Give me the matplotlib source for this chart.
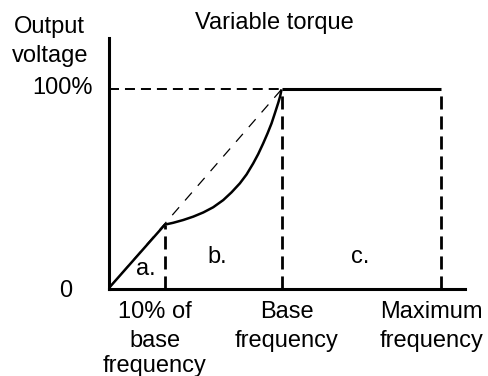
import matplotlib
matplotlib.use('Agg')
import matplotlib.pyplot as plt

plt.rcParams['font.family'] = ['Liberation Sans', 'DejaVu Sans']
plt.rcParams['lines.scale_dashes'] = False

# frequency positions (base frequency = 1) and voltage levels (100% = 1)
f_low = 0.325      # 10% of base frequency
f_base = 1.0
f_max = 1.92
v_low = 0.32
v_full = 1.0

# region a: straight V/f ramp from zero to the low-frequency point
ramp_x = [0.0, f_low]
ramp_y = [0.0, v_low]

# region b: variable-torque curve from the low point up to base frequency
curve_x = [0.322, 0.374, 0.432, 0.490, 0.548, 0.605, 0.663, 0.711, 0.759, 0.798,
           0.836, 0.865, 0.894, 0.919, 0.942, 0.961, 0.981, 0.992, 1.0]
curve_y = [0.320, 0.330, 0.344, 0.361, 0.382, 0.408, 0.444, 0.483, 0.528, 0.573,
           0.628, 0.675, 0.729, 0.779, 0.829, 0.879, 0.933, 0.966, 1.0]

# region c: constant voltage above base frequency
flat_x = [f_base, f_max]
flat_y = [v_full, v_full]

fig = plt.figure(figsize=(4.88, 3.76), dpi=100)
ax = fig.add_axes([108.5 / 488, (376 - 288.5) / 376, (465 - 108.5) / 488, (288.5 - 38) / 376])
ax.set_xlim(0, 2.06)
ax.set_ylim(0, 1.258)
for s in ['top', 'right']:
    ax.spines[s].set_visible(False)
for s in ['left', 'bottom']:
    ax.spines[s].set_linewidth(2.2)
ax.set_xticks([])
ax.set_yticks([])

# guide lines
ax.plot([0, f_base], [0, v_full], color='black', lw=0.9, ls=(0, (7.5, 6.5)))
ax.plot([0, f_base], [v_full, v_full], color='black', lw=1.4, ls=(0, (7.2, 4.3)))
for fx, top in [(f_low, v_low), (f_base, v_full), (f_max, v_full)]:
    ax.plot([fx, fx], [0, top], color='black', lw=2.0, ls=(0, (9.4, 5.0)))

# voltage curve
ax.plot(ramp_x, ramp_y, color='black', lw=1.8, solid_capstyle='butt')
ax.plot(curve_x, curve_y, color='black', lw=1.8, solid_capstyle='butt',
        solid_joinstyle='round')
ax.plot(flat_x, flat_y, color='black', lw=2.2, solid_capstyle='butt')

fs = 17
kw = dict(fontsize=fs, va='baseline', clip_on=False)
ax.text(0.958, 1.303, 'Variable torque', ha='center', **kw)
ax.text(-0.341, 1.283, 'Output', ha='center', **kw)
ax.text(-0.335, 1.137, 'voltage', ha='center', **kw)
ax.text(-0.091, 0.976, '100%', ha='right', **kw)
ax.text(-0.211, -0.043, '0', ha='right', **kw)

label_rows = [-0.150, -0.292, -0.419]
for cx, lines in [(0.268, ['10% of', 'base', 'frequency']),
                  (1.031, ['Base', 'frequency']),
                  (1.868, ['Maximum', 'frequency'])]:
    for yy, t in zip(label_rows, lines):
        ax.text(cx, yy, t, ha='center', **kw)

ax.text(0.217, 0.068, 'a.', ha='center', **kw)
ax.text(0.626, 0.128, 'b.', ha='center', **kw)
ax.text(1.452, 0.128, 'c.', ha='center', **kw)

fig.savefig('out.png', dpi=100)
